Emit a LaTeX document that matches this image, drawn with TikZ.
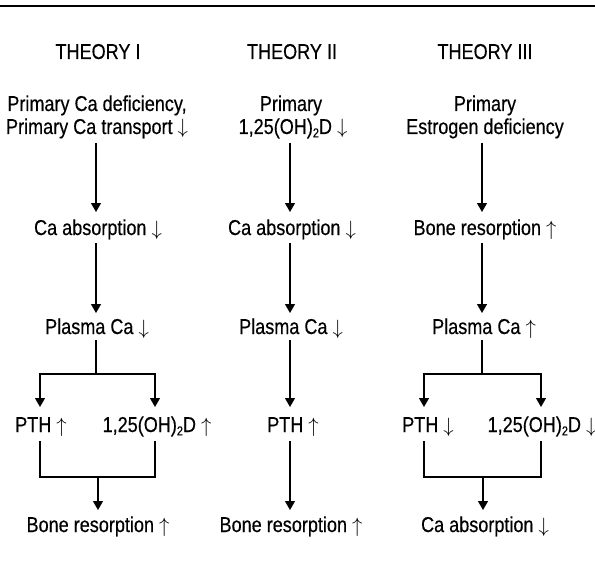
\documentclass[tikz,border=0pt]{standalone}
\usepackage{fontspec}
\setmainfont[FakeStretch=0.84,FakeBold=0.4]{Liberation Sans}
\usetikzlibrary{arrows.meta}
\newcommand\lowtwo{\raisebox{-0.3ex}{\fontsize{13bp}{13bp}\selectfont 2}}
\newcommand\dn{\ $\downarrow$}
\newcommand\up{\ $\uparrow$}
\begin{document}
\begin{tikzpicture}[x=1bp,y=-1bp,
  txt/.style={anchor=base,inner sep=0pt,font=\fontsize{21.5bp}{24bp}\selectfont,align=center},
  ln/.style={line width=1.3bp},
  arr/.style={ln,-{Triangle[length=9bp,width=10bp]}}]
\useasboundingbox (0,0) rectangle (595,571);
\draw[line width=2bp] (0,6) -- (595,6);
% headings
\node[txt] (h1) at (98,59) {THEORY I};
\node[txt] (h2) at (292,59) {THEORY II};
\node[txt] (h3) at (485,59) {THEORY III};
% primary
\node[txt] (a1) at (97,111) {Primary Ca deficiency,};
\node[txt] (a1b) at (97,134) {Primary Ca transport\dn};
\node[txt] (a2) at (291,111) {Primary};
\node[txt] (a2b) at (293,134) {1,25(OH)\lowtwo D\dn};
\node[txt] (a3) at (485,111) {Primary};
\node[txt] (a3b) at (485,134) {Estrogen deficiency};
% row 2
\node[txt] (b1) at (98,235) {Ca absorption\dn};
\node[txt] (b2) at (292,235) {Ca absorption\dn};
\node[txt] (b3) at (485,235) {Bone resorption\up};
% row 3
\node[txt] (c1) at (97,334) {Plasma Ca\dn};
\node[txt] (c2) at (291,334) {Plasma Ca\dn};
\node[txt] (c3) at (484,334) {Plasma Ca\up};
% row 4
\node[txt] (d1) at (41,432) {PTH\up};
\node[txt] (e1) at (157,432) {1,25(OH)\lowtwo D\up};
\node[txt] (d2) at (293,432) {PTH\up};
\node[txt] (d3) at (428,432) {PTH\dn};
\node[txt] (e3) at (542,432) {1,25(OH)\lowtwo D\dn};
% row 5
\node[txt] (f1) at (98,532) {Bone resorption\up};
\node[txt] (f2) at (291,532) {Bone resorption\up};
\node[txt] (f3) at (485,532) {Ca absorption\dn};
% coordinates
\foreach \c/\x in {1/96,2/290,3/482}{
  \coordinate (s\c a) at (\x,143); \coordinate (t\c a) at (\x,212);
  \coordinate (s\c b) at (\x,243); \coordinate (t\c b) at (\x,313);
  \coordinate (s\c c) at (\x,340);
}
\coordinate (j1) at (96,374); \coordinate (j3) at (482,374);
\coordinate (L1t) at (40,407); \coordinate (R1t) at (155,407);
\coordinate (L3t) at (424,407); \coordinate (R3t) at (541,407);
\coordinate (L1s) at (40,441); \coordinate (R1s) at (155,441);
\coordinate (L3s) at (424,441); \coordinate (R3s) at (541,441);
\coordinate (L1e) at (40,477); \coordinate (R1e) at (155,477);
\coordinate (L3e) at (424,477); \coordinate (R3e) at (541,477);
\coordinate (m1) at (98,477); \coordinate (m3) at (483,477);
\coordinate (m1t) at (98,510); \coordinate (m3t) at (483,510);
\coordinate (t2c) at (290,407); \coordinate (s2d) at (290,441); \coordinate (t2d) at (290,510);
% connectors
\foreach \c in {1,2,3}{
  \draw[arr] (s\c a) -- (t\c a);
  \draw[arr] (s\c b) -- (t\c b);
}
\draw[ln] (s1c) -- (j1); \draw[ln] (s3c) -- (j3);
\draw[arr] (j1) -| (L1t); \draw[arr] (j1) -| (R1t);
\draw[arr] (j3) -| (L3t); \draw[arr] (j3) -| (R3t);
\draw[ln] (L1s) -- (L1e) -- (R1e) -- (R1s);
\draw[ln] (L3s) -- (L3e) -- (R3e) -- (R3s);
\draw[arr] (m1) -- (m1t); \draw[arr] (m3) -- (m3t);
\draw[arr] (s2c) -- (t2c); \draw[arr] (s2d) -- (t2d);
\end{tikzpicture}
\end{document}
